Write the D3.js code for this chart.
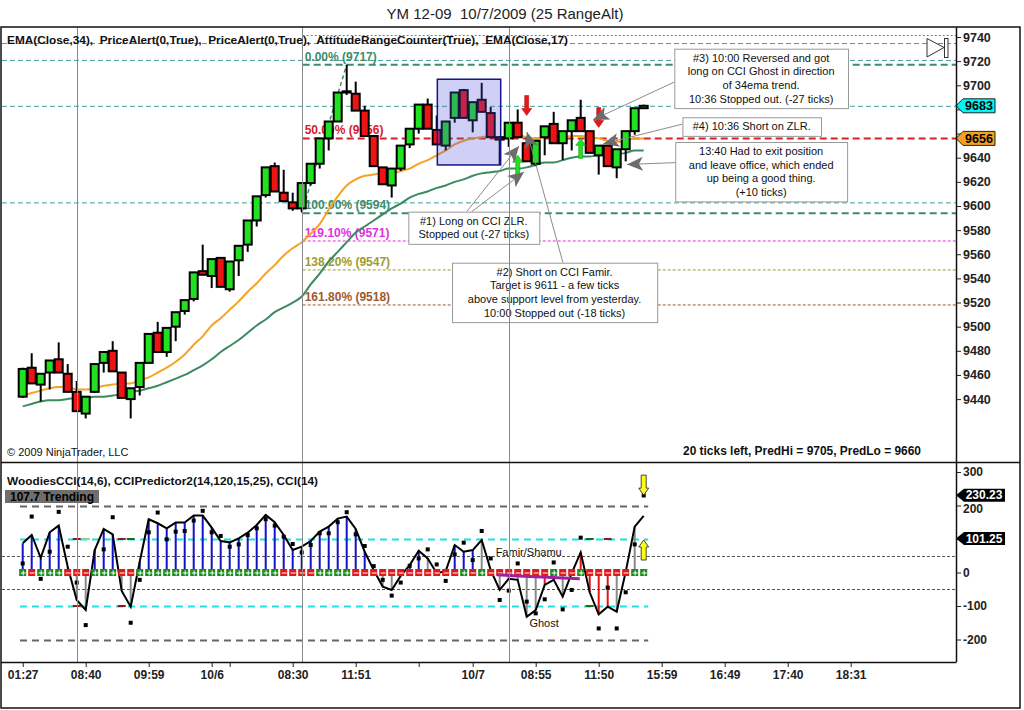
<!DOCTYPE html>
<html>
<head>
<meta charset="utf-8">
<script src="https://cdn.jsdelivr.net/npm/d3@7"></script>
<style>
body{margin:0;background:#fff;}
text{font-family:Arial,"Liberation Sans",sans-serif;}
</style>
</head>
<body>
<div id="chart"></div>
<script>
/* price bars (25 range), one per bar index */
var open  = [9442,9466,9452,9462,9473,9461,9446,9428,9446,9470, 9480,9462,9440,9450,9470,9495,9479,9500,9513,9523,
             9546,9542,9557,9531,9555,9568,9588,9609,9633,9611, 9603,9598,9619,9635,9656,9670,9695,9693,9679,9658,
             9632,9617,9631,9651,9664,9684,9663,9650,9673,9696, 9671,9688,9677,9657,9656,9669,9652,9635,9657,9668,
             9652,9662,9673,9662,9642,9650,9632,9647,9662,9681];
var high  = [9466,9478,9461,9472,9487,9469,9455,9442,9469,9479, 9488,9462,9449,9470,9494,9504,9499,9512,9522,9545,
             9568,9556,9557,9554,9567,9588,9608,9632,9636,9630, 9611,9619,9635,9656,9670,9694,9717,9703,9683,9658,
             9632,9631,9650,9664,9684,9689,9675,9670,9694,9697, 9686,9702,9682,9658,9669,9680,9657,9654,9666,9678,
             9662,9671,9688,9662,9650,9650,9647,9662,9681,9684];
var low   = [9441,9453,9438,9448,9462,9446,9430,9424,9445,9462, 9463,9441,9424,9443,9470,9479,9475,9488,9510,9521,
             9543,9532,9533,9529,9542,9562,9583,9607,9612,9604, 9596,9595,9617,9631,9646,9670,9692,9679,9658,9633,
             9618,9607,9629,9648,9660,9664,9651,9646,9669,9673, 9661,9678,9657,9634,9649,9657,9637,9633,9642,9652,
             9638,9646,9662,9644,9626,9633,9623,9637,9659,9681];
var close = [9465,9453,9461,9472,9462,9446,9430,9442,9469,9479, 9463,9441,9449,9470,9494,9479,9499,9512,9522,9545,
             9543,9556,9533,9554,9567,9588,9608,9632,9612,9604, 9598,9619,9635,9656,9670,9694,9694,9679,9658,9633,
             9618,9631,9650,9664,9684,9664,9651,9670,9694,9673, 9686,9678,9657,9655,9669,9657,9637,9654,9666,9652,
             9662,9671,9662,9644,9650,9633,9647,9662,9681,9683];

var ema17 = [9443,9445,9447,9449,9450,9450,9448,9448,9449,9451, 9452,9453,9453,9456,9458,9462,9466,9471,9477,9485,
             9492,9501,9507,9514,9521,9529,9536,9544,9551,9559, 9565,9570,9577,9585,9597,9608,9617,9622,9625,9626,
             9627,9627,9629,9631,9635,9638,9642,9646,9651,9654, 9656,9657,9658,9657,9657,9659,9657,9656,9657,9658,
             9657,9658,9658,9657,9656,9654,9653,9654,9656,9656];
var ema34 = [9434,9436,9438,9439,9439,9440,9441,9441,9442,9442, 9443,9444,9446,9447,9449,9451,9454,9457,9460,9464,
             9468,9473,9479,9484,9489,9495,9501,9506,9512,9516, 9520,9525,9535,9544,9554,9562,9570,9578,9583,9588,
             9593,9598,9602,9607,9610,9612,9615,9617,9620,9622, 9625,9627,9628,9629,9631,9631,9632,9634,9636,9636,
             9638,9640,9641,9641,9642,9642,9643,9644,9646,9646];

/* fibonacci drawing */
var fibNames  = ['0.00%','50.00%','100.00%','119.10%','138.20%','161.80%'];
var fibPrices = [9717,9656,9594,9571,9547,9518];
var fibColors = ['#3d8c6a','#d9202a','#3d8c6a','#e030e0','#9c9c30','#a0582c'];
var fibAnchor = [[31,9594],[36,9717]];

var guideLevels = [9735,9721,9683,9603];
var lastPrice = 9683, emaTag = 9656;
var priceTicks = [9440,9460,9480,9500,9520,9540,9560,9580,9600,9620,9640,9660,9680,9700,9720,9740];
var hiddenPriceLabels = [9660,9680];

var sessionBreaks = [6,31,54];
var tradeBox = {i0:46.07, i1:53.11, p0:9705, p1:9634};

var sigDown = [[56,9675],[64,9665]];
var sigUp   = [[55,9642],[62,9656]];

var notes = [
  {i0:42.85, i1:57.4, p:9595.3, lines:['#1) Long on CCI ZLR.','Stopped out (-27 ticks)']},
  {i0:47.7, i1:70.5, p:9553, lines:['#2) Short on CCI Famir.','Target is 9611 - a few ticks','above support level from yesterday.','10:00 Stopped out (-18 ticks)']},
  {i0:72.4, i1:91.7, p:9730.3, lines:['#3) 10:00 Reversed and got','long on CCI Ghost in direction','of 34ema trend.','10:36 Stopped out. (-27 ticks)']},
  {i0:73.3, i1:88.7, p:9673.5, lines:['#4) 10:36 Short on ZLR.']},
  {i0:72.5, i1:91.6, p:9653, lines:['13:40 Had to exit position','and leave office, which ended','up being a good thing.','(+10 ticks)']}
];
var pointers = [
  [[49.33,9595.3],[55.14,9649.7]],
  [[49.89,9595.3],[55.7,9628.2]],
  [[60.03,9553],[56.03,9661.3]],
  [[72.4,9702.7],[63.37,9671.3]],
  [[73.33,9667.9],[64.48,9651.4]],
  [[72.51,9635.9],[67.14,9634.4]]
];

/* CCI panel */
var cci = [87,112,44,120,140,17,-82,-112,67,130, 114,-55,-102,32,159,147,132,149,149,170,
           170,134,94,90,102,119,142,172,150,112, 67,77,94,122,137,161,167,130,62,7,
           -42,-52,-10,22,65,42,-2,4,82,62, 67,97,7,-52,-19,-22,-132,-112,-37,-22,
           -72,-2,60,-59,-125,-102,-117,2,137,169];
var turbo = [27,167,-19,62,181,77,-30,-157,2,69, 165,2,-150,-22,120,179,99,122,124,155,
             184,120,109,77,84,112,132,159,140,107, 85,60,82,117,117,150,180,114,79,19,
             -22,-69,-30,20,42,69,24,-25,54,89, 37,124,42,-82,-54,27,-87,-122,-80,30,
             -110,-52,104,0,-167,-45,-167,-59,84,230];
var histColor = 'BBBBBGGGBBBGGBBBBBBBBBBBBBBBBBBBBBBBBBBGGGGBBGGBBBBGGGGGGGRRGGRRRRGGG'.split('');
var zeroSign  = '+-+++---+++--++++++++++++++++----++++------------+-+-------+--+-----+++'.split('');
var predDash = [[6,100,'#8b1a1a'],[7,100,'#8fcf8f'],[11,100,'#8b1a1a'],[12,100,'#1a6b1a'],
                [6,-100,'#8b1a1a'],[11,-100,'#8b1a1a'],[63,100,'#1a6b1a'],[65,100,'#8b1a1a'],[63,-100,'#1a6b1a']];
var cciLevels = [-200,-100,-50,50,100,200];
var cciTicks = [-200,-100,0,100,200,300];
var hiddenCciLabels = [100];
var famir = [[52.7,-7],[61.9,-19]];
var cciTags = [230.23,101.25];

/* time axis */
var timeTicks  = [0,7,14,21,23,30,37,44,50,57,64,71,78,85,92];
var timeLabels = ['01:27','08:40','09:59','10/6','','08:30','11:51','','10/7','08:55','11:50','15:59','16:49','17:40','18:31'];

var UP = '#22e022', DOWN = '#ee1414';

var x  = d3.scaleLinear().domain([0,69]).range([22.7,643.7]);
var y  = d3.scaleLinear().domain([9440,9740]).range([399.1,37]);
var yc = d3.scaleLinear().domain([-200,300]).range([639.5,472]);

var svg = d3.select('#chart').append('svg')
    .attr('width',1024).attr('height',710).style('display','block');
svg.append('rect').attr('width',1024).attr('height',710).attr('fill','#fff');

var defs = svg.append('defs');
defs.append('clipPath').attr('id','cTop').append('rect')
    .attr('x',1).attr('y',27).attr('width',955).attr('height',435);
defs.append('clipPath').attr('id','cBot').append('rect')
    .attr('x',1).attr('y',462).attr('width',955).attr('height',200);

// title
svg.append('text').attr('x',505).attr('y',19).attr('text-anchor','middle')
    .style('font-size','15px').style('white-space','pre').attr('fill','#222')
    .text('YM 12-09  10/7/2009 (25 RangeAlt)');

var upper = svg.append('g').attr('clip-path','url(#cTop)');
var lower = svg.append('g').attr('clip-path','url(#cBot)');

/* ---------- upper panel ---------- */
upper.selectAll('.guide').data(guideLevels).enter().append('line')
    .attr('x1',2).attr('x2',956)
    .attr('y1',function(d){return y(d)+0.5}).attr('y2',function(d){return y(d)+0.5})
    .attr('stroke','#4a9c9c').attr('stroke-width',1).attr('stroke-dasharray','5,3');

upper.append('line').attr('x1',x(31)+1).attr('x2',956).attr('y1',35.5).attr('y2',35.5)
    .attr('stroke','#d040d0').attr('stroke-dasharray','2,2');

var fibStart = x(31)+1;
fibPrices.forEach(function(p,k){
    var thick = k<3;
    upper.append('line').attr('x1',fibStart).attr('x2',956)
        .attr('y1',y(p)).attr('y2',y(p))
        .attr('stroke',fibColors[k]).attr('stroke-width',thick?2:1)
        .attr('stroke-dasharray',thick?'7,4':'3,2');
    upper.append('text').attr('x',fibStart+2).attr('y',y(p)-4)
        .attr('fill',fibColors[k]).style('font-size','12px').style('font-weight','bold')
        .text(fibNames[k]+' ('+p+')');
});

// session lines
svg.selectAll('.sess').data(sessionBreaks).enter().append('line')
    .attr('x1',function(d){return Math.round(x(d))+0.5}).attr('x2',function(d){return Math.round(x(d))+0.5})
    .attr('y1',27).attr('y2',662).attr('stroke','#8a8a8a').attr('stroke-width',1);

// moving averages
var lineP = function(arr){
    return d3.line().x(function(d,i){return x(i)}).y(function(d){return y(d)}).curve(d3.curveMonotoneX)(arr);
};
upper.append('path').attr('d',lineP(ema34)).attr('fill','none').attr('stroke','#3a8a62').attr('stroke-width',2);
upper.append('path').attr('d',lineP(ema17)).attr('fill','none').attr('stroke','#f5a322').attr('stroke-width',2);

// fib anchor
upper.append('line')
    .attr('x1',x(fibAnchor[0][0])).attr('y1',y(fibAnchor[0][1]))
    .attr('x2',x(fibAnchor[1][0])).attr('y2',y(fibAnchor[1][1]))
    .attr('stroke','#3d8c6a').attr('stroke-width',1.5).attr('stroke-dasharray','4,3');

// candles
var idx = d3.range(open.length);
var cg = upper.append('g');
cg.selectAll('.wick').data(idx).enter().append('line')
    .attr('x1',function(i){return x(i)}).attr('x2',function(i){return x(i)})
    .attr('y1',function(i){return y(high[i])}).attr('y2',function(i){return y(low[i])})
    .attr('stroke','#000').attr('stroke-width',2);
cg.selectAll('.body').data(idx).enter().append('rect')
    .attr('x',function(i){return x(i)-4}).attr('width',8)
    .attr('y',function(i){return y(Math.max(open[i],close[i]))})
    .attr('height',function(i){return Math.max(1,Math.abs(y(open[i])-y(close[i])))})
    .attr('fill',function(i){return close[i]>=open[i]?UP:DOWN})
    .attr('stroke','#000').attr('stroke-width',2);

// trade selection box
upper.append('rect')
    .attr('x',x(tradeBox.i0)).attr('y',y(tradeBox.p0))
    .attr('width',x(tradeBox.i1)-x(tradeBox.i0)).attr('height',y(tradeBox.p1)-y(tradeBox.p0))
    .attr('fill','rgb(80,80,220)').attr('fill-opacity',0.27)
    .attr('stroke','#14148c').attr('stroke-width',1.5);

// signal arrows
var arrowPath = 'M0,0 L-5,-7 L-2,-7 L-2,-20 L2,-20 L2,-7 L5,-7 Z';
upper.selectAll('.dn').data(sigDown).enter().append('path').attr('d',arrowPath)
    .attr('transform',function(d){return 'translate('+x(d[0])+','+y(d[1])+')'})
    .attr('fill','#e81818').attr('stroke','#b00000').attr('stroke-width',0.5);
upper.selectAll('.up').data(sigUp).enter().append('path').attr('d',arrowPath)
    .attr('transform',function(d){return 'translate('+x(d[0])+','+y(d[1])+') rotate(180)'})
    .attr('fill','#22e022').attr('stroke','#0a8a0a').attr('stroke-width',0.5);

// annotation pointers
pointers.forEach(function(p){
    var x0=x(p[0][0]), y0=y(p[0][1]), x1=x(p[1][0]), y1=y(p[1][1]);
    var a = Math.atan2(y1-y0,x1-x0)*180/Math.PI;
    upper.append('line').attr('x1',x0).attr('y1',y0).attr('x2',x1).attr('y2',y1)
        .attr('stroke','#8c8c8c').attr('stroke-width',1);
    upper.append('path').attr('d','M0,0 L-16,-7 L-12,0 L-16,7 Z')
        .attr('transform','translate('+x1+','+y1+') rotate('+a+')')
        .attr('fill','#6c6c6c');
});

// annotation boxes
notes.forEach(function(n){
    var bx = x(n.i0), bw = x(n.i1)-x(n.i0), by = y(n.p);
    var bh = n.lines.length*13.6+5;
    upper.append('rect').attr('x',bx+0.5).attr('y',by+0.5).attr('width',bw).attr('height',bh)
        .attr('fill','#fff').attr('stroke','#9a9a9a');
    n.lines.forEach(function(t,k){
        upper.append('text').attr('x',bx+bw/2).attr('y',by+13+k*13.6)
            .attr('text-anchor','middle').style('font-size','11px').attr('fill','#111').text(t);
    });
});

// play icon
svg.append('path').attr('d','M927,38.5 L944,47.5 L927,57 Z').attr('fill','#fff').attr('stroke','#333');
svg.append('rect').attr('x',944.5).attr('y',38.5).attr('width',3.5).attr('height',19)
    .attr('fill','#fff').attr('stroke','#333');

// headers
svg.append('text').attr('x',7).attr('y',44).style('font-size','11.5px').style('font-weight','bold')
    .style('white-space','pre').attr('fill','#111')
    .attr('textLength',561).attr('lengthAdjust','spacingAndGlyphs')
    .text('EMA(Close,34),  PriceAlert(0,True),  PriceAlert(0,True),  AttitudeRangeCounter(True),  EMA(Close,17)');
svg.append('text').attr('x',7).attr('y',456).style('font-size','11px').attr('fill','#111')
    .text('\u00a9 2009 NinjaTrader, LLC');
svg.append('text').attr('x',921).attr('y',455).attr('text-anchor','end')
    .style('font-size','12px').style('font-weight','bold').attr('fill','#111')
    .attr('textLength',238).attr('lengthAdjust','spacingAndGlyphs')
    .text('20 ticks left, PredHi = 9705, PredLo = 9660');

// price axis (labels hidden where the value tags sit on top of them)
var axP = svg.append('g').attr('transform','translate(956,0)')
    .call(d3.axisRight(y).tickValues(priceTicks).tickSize(5).tickPadding(2)
        .tickFormat(function(d){return hiddenPriceLabels.indexOf(d)>=0?'':String(d)}));
axP.select('.domain').remove();
axP.selectAll('text').style('font-size','12.5px').style('font-weight','bold').attr('fill','#222');
axP.selectAll('line').attr('stroke','#222');

function tag(yv, label, fill, txt){
    var g = svg.append('g').attr('transform','translate(0,'+yv+')');
    g.append('path').attr('d','M956,0 L963,-7 L995,-7 L995,7 L963,7 Z')
        .attr('fill',fill).attr('stroke','#222').attr('stroke-width',1);
    g.append('text').attr('x',979).attr('y',4.5).attr('text-anchor','middle')
        .style('font-size','12.5px').style('font-weight','bold').attr('fill',txt).text(label);
}
tag(y(lastPrice), String(lastPrice), '#00f6f6', '#000');
tag(y(emaTag), String(emaTag), '#f4a11f', '#000');

/* ---------- CCI panel ---------- */
cciLevels.forEach(function(v){
    var a = Math.abs(v);
    var col = a==200?'#666':(a==100?'#22dede':'#555');
    lower.append('line')
        .attr('x1',a==50?2:x(-0.3)).attr('x2',a==50?956:x(69.5))
        .attr('y1',Math.round(yc(v))+0.5).attr('y2',Math.round(yc(v))+0.5)
        .attr('stroke',col).attr('stroke-width',a==50?1:2)
        .attr('stroke-dasharray',a==50?'3,2':'7,5');
});

var hc = {B:'#1212c8', G:'#8a8a8a', R:'#e41414'};
lower.selectAll('.hist').data(idx).enter().append('line')
    .attr('x1',function(i){return x(i)}).attr('x2',function(i){return x(i)})
    .attr('y1',yc(0)).attr('y2',function(i){return yc(cci[i])})
    .attr('stroke',function(i){return hc[histColor[i]]}).attr('stroke-width',2);

lower.selectAll('.pd').data(predDash).enter().append('line')
    .attr('x1',function(d){return x(d[0])-4}).attr('x2',function(d){return x(d[0])+4})
    .attr('y1',function(d){return yc(d[1])}).attr('y2',function(d){return yc(d[1])})
    .attr('stroke',function(d){return d[2]}).attr('stroke-width',2);

lower.append('path')
    .attr('d',d3.line().x(function(d,i){return x(i)}).y(function(d){return yc(d)})(cci))
    .attr('fill','none').attr('stroke','#000').attr('stroke-width',2);

lower.selectAll('.sq').data(idx).enter().append('rect')
    .attr('x',function(i){return x(i)-2}).attr('y',function(i){return yc(turbo[i])-2})
    .attr('width',4).attr('height',4).attr('fill','#000');

var zg = lower.selectAll('.zs').data(idx).enter().append('g')
    .attr('transform',function(i){return 'translate('+x(i)+','+yc(0)+')'});
zg.append('rect').attr('x',-3.5).attr('y',-3.5).attr('width',7).attr('height',7)
    .attr('fill',function(i){return zeroSign[i]=='+'?'#1a8a1a':'#e01818'});
zg.append('path').attr('d',function(i){return zeroSign[i]=='+'?'M-2,0.5 H3 M0.5,-2 V3':'M-2,0.5 H3'})
    .attr('stroke','#fff').attr('stroke-width',1);

lower.append('line')
    .attr('x1',x(famir[0][0])).attr('y1',yc(famir[0][1]))
    .attr('x2',x(famir[1][0])).attr('y2',yc(famir[1][1]))
    .attr('stroke','#a01ea0').attr('stroke-width',3);
lower.append('text').attr('x',x(52.55)).attr('y',yc(50)).style('font-size','11px').attr('fill','#111').text('Famir/Shamu');
lower.append('text').attr('x',x(56.3)).attr('y',yc(-162)).style('font-size','11px').attr('fill','#111').text('Ghost');

// yellow arrows on the last bar
var yArrow = 'M0,0 L-5,-7 L-2.5,-7 L-2.5,-20 L2.5,-20 L2.5,-7 L5,-7 Z';
lower.append('path').attr('d',yArrow)
    .attr('transform','translate('+x(69)+','+yc(231)+')')
    .attr('fill','#ffff10').attr('stroke','#444').attr('stroke-width',1);
lower.append('path').attr('d',yArrow)
    .attr('transform','translate('+x(69)+','+yc(97)+') rotate(180)')
    .attr('fill','#ffff10').attr('stroke','#444').attr('stroke-width',1);

svg.append('text').attr('x',7).attr('y',485).style('font-size','11.5px').style('font-weight','bold')
    .attr('fill','#111').attr('textLength',311).attr('lengthAdjust','spacingAndGlyphs')
    .text('WoodiesCCI(14,6), CCIPredictor2(14,120,15,25), CCI(14)');
svg.append('rect').attr('x',5).attr('y',490).attr('width',94).attr('height',13).attr('fill','#6e6e6e');
svg.append('text').attr('x',10).attr('y',501).style('font-size','12px').style('font-weight','bold')
    .attr('fill','#000').text('107.7 Trending');

var axC = svg.append('g').attr('transform','translate(956,0)')
    .call(d3.axisRight(yc).tickValues(cciTicks).tickSize(5).tickPadding(2)
        .tickFormat(function(d){return hiddenCciLabels.indexOf(d)>=0?'':String(d)}));
axC.select('.domain').remove();
axC.selectAll('text').style('font-size','12px').style('font-weight','bold').attr('fill','#222');
axC.selectAll('text').filter(function(d){return d==200}).attr('dy','0.55em');
axC.selectAll('line').attr('stroke','#222');

cciTags.forEach(function(v){
    var g = svg.append('g').attr('transform','translate(0,'+yc(v)+')');
    g.append('path').attr('d','M956,0 L964,-6.5 L1005,-6.5 L1005,6.5 L964,6.5 Z').attr('fill','#000');
    g.append('text').attr('x',984).attr('y',4).attr('text-anchor','middle')
        .style('font-size','12px').style('font-weight','bold').attr('fill','#fff').text(v.toFixed(2));
});

// time axis
var axT = svg.append('g').attr('transform','translate(0,662)')
    .call(d3.axisBottom(x).tickValues(timeTicks).tickSize(5).tickPadding(3)
        .tickFormat(function(d,i){return timeLabels[i]}));
axT.select('.domain').remove();
axT.selectAll('text').style('font-size','12px').style('font-weight','bold').attr('fill','#222');
axT.selectAll('line').attr('stroke','#222');

// frame
svg.append('rect').attr('x',1).attr('y',27).attr('width',1019).attr('height',681)
    .attr('fill','none').attr('stroke','#111').attr('stroke-width',1.5);
svg.append('line').attr('x1',1).attr('x2',1020).attr('y1',462.5).attr('y2',462.5).attr('stroke','#111').attr('stroke-width',1.5);
svg.append('line').attr('x1',956.5).attr('x2',956.5).attr('y1',27).attr('y2',662).attr('stroke','#111').attr('stroke-width',1.5);
svg.append('line').attr('x1',1).attr('x2',956.5).attr('y1',662.5).attr('y2',662.5).attr('stroke','#111').attr('stroke-width',1.5);
</script>
</body>
</html>
